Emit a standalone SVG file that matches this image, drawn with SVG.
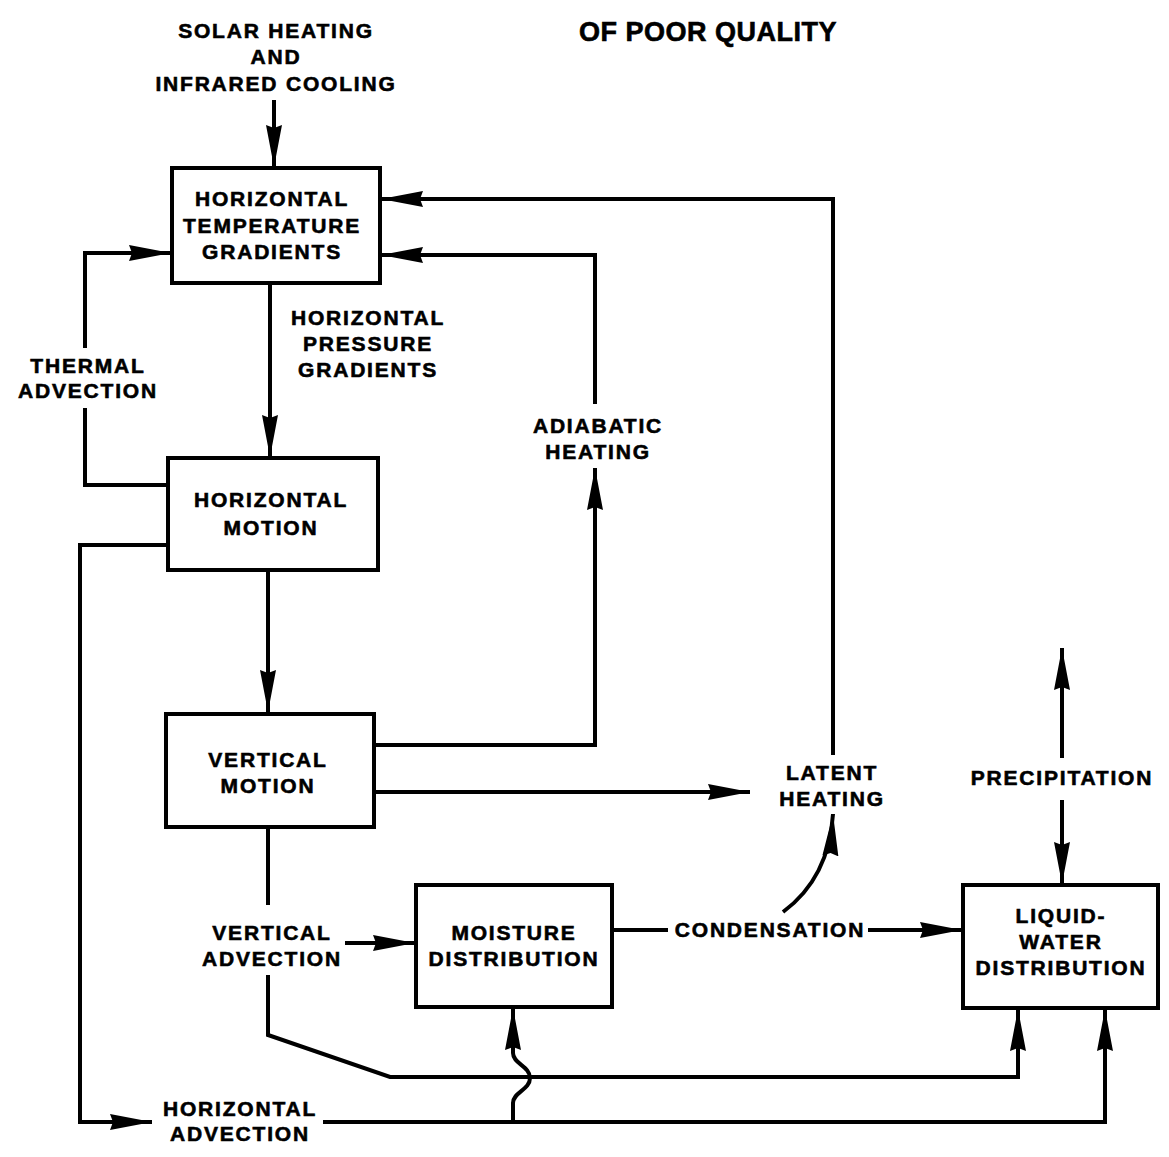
<svg xmlns="http://www.w3.org/2000/svg" width="1169" height="1157" viewBox="0 0 1169 1157">
<style>
.box{fill:#fff;stroke:#000;stroke-width:4}
.ln{fill:none;stroke:#000;stroke-width:4;stroke-linejoin:miter}
.t{font-family:"Liberation Sans",Arial,sans-serif;font-weight:bold;font-size:21px;letter-spacing:1.8px;text-anchor:middle;fill:#000;stroke:#000;stroke-width:0.6}
.big{font-size:27px;letter-spacing:0.5px}
</style>
<defs>
<marker id="ah" markerUnits="userSpaceOnUse" markerWidth="44" markerHeight="20" refX="42" refY="10" orient="auto">
<path d="M0,2 L42,10 L0,18 L3,10 z" fill="#000"/>
</marker>
</defs>
<rect width="1169" height="1157" fill="#fff"/>
<text class="t big" x="708" y="41">OF POOR QUALITY</text>
<g id="labels">
<text class="t" x="276" y="38">SOLAR HEATING</text>
<text class="t" x="276" y="64">AND</text>
<text class="t" x="276" y="91">INFRARED COOLING</text>
<text class="t" x="368" y="325">HORIZONTAL</text>
<text class="t" x="368" y="351">PRESSURE</text>
<text class="t" x="368" y="377">GRADIENTS</text>
<text class="t" x="88" y="373">THERMAL</text>
<text class="t" x="88" y="398">ADVECTION</text>
<text class="t" x="598" y="433">ADIABATIC</text>
<text class="t" x="598" y="459">HEATING</text>
<text class="t" x="832" y="780">LATENT</text>
<text class="t" x="832" y="806">HEATING</text>
<text class="t" x="1062" y="785">PRECIPITATION</text>
<text class="t" x="272" y="940">VERTICAL</text>
<text class="t" x="272" y="966">ADVECTION</text>
<text class="t" x="770" y="937">CONDENSATION</text>
<text class="t" x="240" y="1116">HORIZONTAL</text>
<text class="t" x="240" y="1141">ADVECTION</text>
</g>
<g id="connectors">
<path class="ln" d="M274,100 L274,167" marker-end="url(#ah)"/>
<path class="ln" d="M270,283 L270,457" marker-end="url(#ah)"/>
<path class="ln" d="M168,485 L85,485 L85,408"/>
<path class="ln" d="M85,348 L85,253 L171,253" marker-end="url(#ah)"/>
<path class="ln" d="M268,570 L268,712" marker-end="url(#ah)"/>
<path class="ln" d="M374,745 L595,745 L595,468" marker-end="url(#ah)"/>
<path class="ln" d="M595,404 L595,255 L381,255" marker-end="url(#ah)"/>
<path class="ln" d="M374,792 L750,792" marker-end="url(#ah)"/>
<path class="ln" d="M833,755 L833,199 L381,199" marker-end="url(#ah)"/>
<path class="ln" d="M612,930 L668,930"/>
<path class="ln" d="M868,930 L962,930" marker-end="url(#ah)"/>
<path class="ln" d="M783,912 Q829,878 833,814" marker-end="url(#ah)"/>
<path class="ln" d="M1062,758 L1062,648" marker-end="url(#ah)"/>
<path class="ln" d="M1062,800 L1062,884" marker-end="url(#ah)"/>
<path class="ln" d="M268,827 L268,905"/>
<path class="ln" d="M345,943 L415,943" marker-end="url(#ah)"/>
<path class="ln" d="M268,975 L268,1035 L390,1077 L1018,1077 L1018,1009" marker-end="url(#ah)"/>
<path class="ln" d="M168,545 L80,545 L80,1122 L152,1122" marker-end="url(#ah)"/>
<path class="ln" d="M323,1122 L1105,1122 L1105,1009" marker-end="url(#ah)"/>
<path class="ln" d="M513,1122 L513,1103 C513,1092 530,1090 530,1078 C530,1066 513,1064 513,1053 L513,1008" marker-end="url(#ah)"/>
</g>
<g id="n-htg">
<rect class="box" x="172" y="168" width="208" height="115"/>
<text class="t" x="272" y="206">HORIZONTAL</text>
<text class="t" x="272" y="233">TEMPERATURE</text>
<text class="t" x="272" y="259">GRADIENTS</text>
</g>
<g id="n-hm">
<rect class="box" x="168" y="458" width="210" height="112"/>
<text class="t" x="271" y="507">HORIZONTAL</text>
<text class="t" x="271" y="535">MOTION</text>
</g>
<g id="n-vm">
<rect class="box" x="166" y="714" width="208" height="113"/>
<text class="t" x="268" y="767">VERTICAL</text>
<text class="t" x="268" y="793">MOTION</text>
</g>
<g id="n-md">
<rect class="box" x="416" y="885" width="196" height="122"/>
<text class="t" x="514" y="940">MOISTURE</text>
<text class="t" x="514" y="966">DISTRIBUTION</text>
</g>
<g id="n-lwd">
<rect class="box" x="963" y="885" width="195" height="123"/>
<text class="t" x="1061" y="923">LIQUID-</text>
<text class="t" x="1061" y="949">WATER</text>
<text class="t" x="1061" y="975">DISTRIBUTION</text>
</g>
</svg>
